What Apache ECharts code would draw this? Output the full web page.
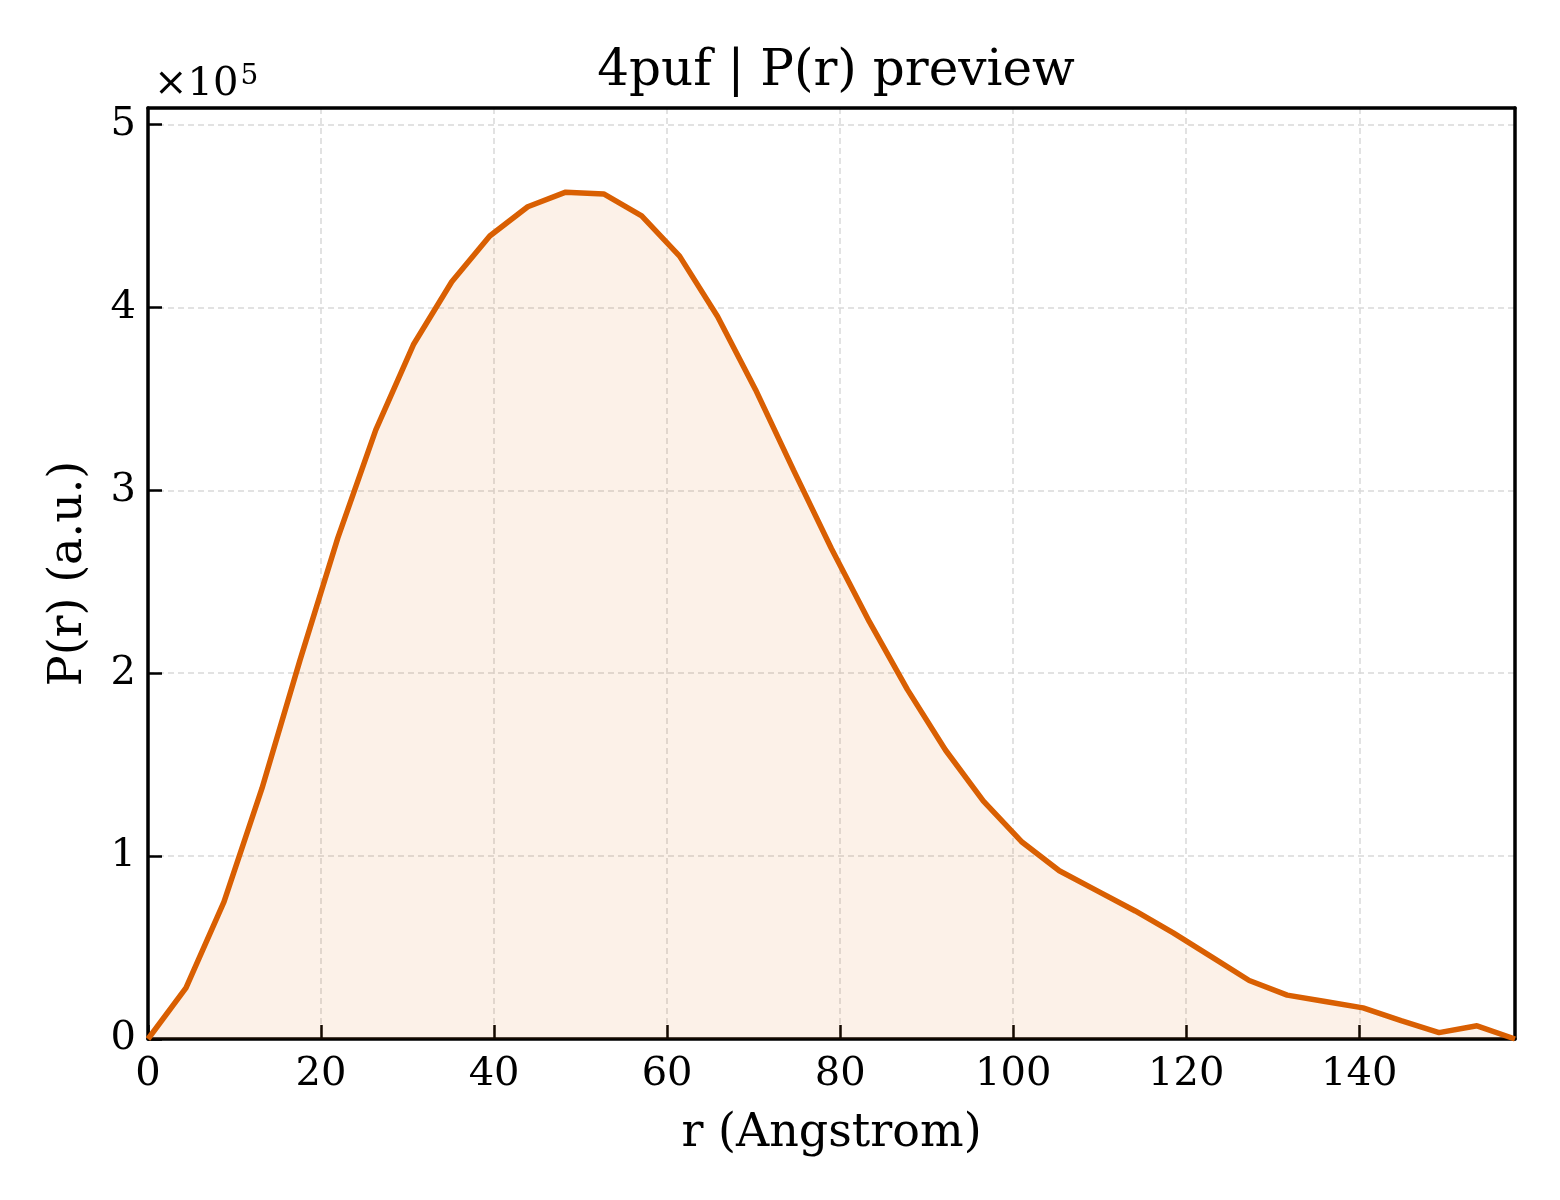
<!DOCTYPE html>
<html>
<head>
<meta charset="utf-8">
<script src="https://cdn.jsdelivr.net/npm/echarts@6/dist/echarts.min.js"></script>
<style>
  html, body { margin: 0; padding: 0; background: #fff; }
  #chart { width: 1560px; height: 1200px; }
</style>
</head>
<body>
<div id="chart"></div>
<script>
// r in Angstrom, P(r) in a.u.
var rValues = [0, 4.39, 8.78, 13.17, 17.56, 21.94, 26.33, 30.72, 35.11, 39.5,
  43.89, 48.28, 52.67, 57.06, 61.44, 65.83, 70.22, 74.61, 79.0, 83.39,
  87.78, 92.17, 96.56, 100.94, 105.33, 109.72, 114.11, 118.5, 122.89, 127.28,
  131.67, 136.06, 140.44, 144.83, 149.22, 153.61, 158.0];
var prValues = [0, 28000, 75000, 137000, 207000, 274000, 333000, 380000, 414000, 439000,
  455000, 463000, 462000, 450000, 428000, 395000, 355000, 311000, 268000, 228000,
  191000, 158000, 130000, 108000, 92000, 81000, 70000, 58000, 45000, 32000,
  24000, 20500, 17000, 10000, 3500, 7200, 0];
var xTicks = [0, 20, 40, 60, 80, 100, 120, 140];
var yTicks = [0, 100000, 200000, 300000, 400000, 500000];

var serif = '"DejaVu Serif", "Liberation Serif", serif';
var lineColor = '#D95F02';

var points = [];
for (var i = 0; i < rValues.length; i++) {
    points.push([rValues[i], prValues[i]]);
}

var chart = echarts.init(document.getElementById('chart'));

var gridDash = { show: true, lineStyle: { color: '#d9d9d9', width: 1.5, type: [6, 4] } };
var spine = { show: true, onZero: false, lineStyle: { color: '#000', width: 3.5 } };
var ticks = { show: true, inside: true, length: 14, lineStyle: { color: '#000', width: 2.5 } };

var option = {
    backgroundColor: '#fff',
    animation: false,
    title: [{
        text: '4puf | P(r) preview',
        left: 831,
        top: 42,
        textAlign: 'center',
        textStyle: { fontFamily: serif, fontSize: 50, fontWeight: 'normal', color: '#000' }
    }, {
        text: '×10{sup|5}',
        left: 149,
        top: 58,
        textStyle: {
            fontFamily: serif, fontSize: 40, fontWeight: 'normal', color: '#000',
            rich: { sup: { fontFamily: serif, fontSize: 28, color: '#000', padding: [0, 0, 16, 2] } }
        }
    }],
    grid: { left: 148, right: 45, top: 108, bottom: 161 },
    xAxis: [{
        type: 'value',
        min: 0, max: 158, interval: 20,
        name: 'r (Angstrom)',
        nameLocation: 'middle',
        nameGap: 72,
        nameTextStyle: { fontFamily: serif, fontSize: 46, color: '#000' },
        axisLine: spine,
        axisTick: ticks,
        axisLabel: {
            fontFamily: serif, fontSize: 40, color: '#000', margin: 16, showMaxLabel: false,
            formatter: function (v) { return xTicks.indexOf(v) >= 0 ? String(v) : ''; }
        },
        splitLine: gridDash
    }, {
        type: 'value', position: 'top',
        min: 0, max: 158,
        axisLine: spine,
        axisTick: { show: false }, axisLabel: { show: false }, splitLine: { show: false }
    }],
    yAxis: [{
        type: 'value',
        min: 0, max: 509000, interval: 100000,
        name: 'P(r) (a.u.)',
        nameLocation: 'middle',
        nameGap: 56,
        nameTextStyle: { fontFamily: serif, fontSize: 46, color: '#000' },
        axisLine: spine,
        axisTick: ticks,
        axisLabel: {
            fontFamily: serif, fontSize: 40, color: '#000', margin: 12, showMaxLabel: false,
            formatter: function (v) { return yTicks.indexOf(v) >= 0 ? String(v / 100000) : ''; }
        },
        splitLine: gridDash
    }, {
        type: 'value', position: 'right',
        min: 0, max: 509000,
        axisLine: spine,
        axisTick: { show: false }, axisLabel: { show: false }, splitLine: { show: false }
    }],
    series: [{
        type: 'line',
        data: points,
        showSymbol: false,
        smooth: false,
        lineStyle: { color: lineColor, width: 5.5 },
        areaStyle: { color: 'rgba(217,95,2,0.13)' },
        itemStyle: { color: lineColor },
        z: 3
    }]
};

chart.setOption(option);
</script>
</body>
</html>
